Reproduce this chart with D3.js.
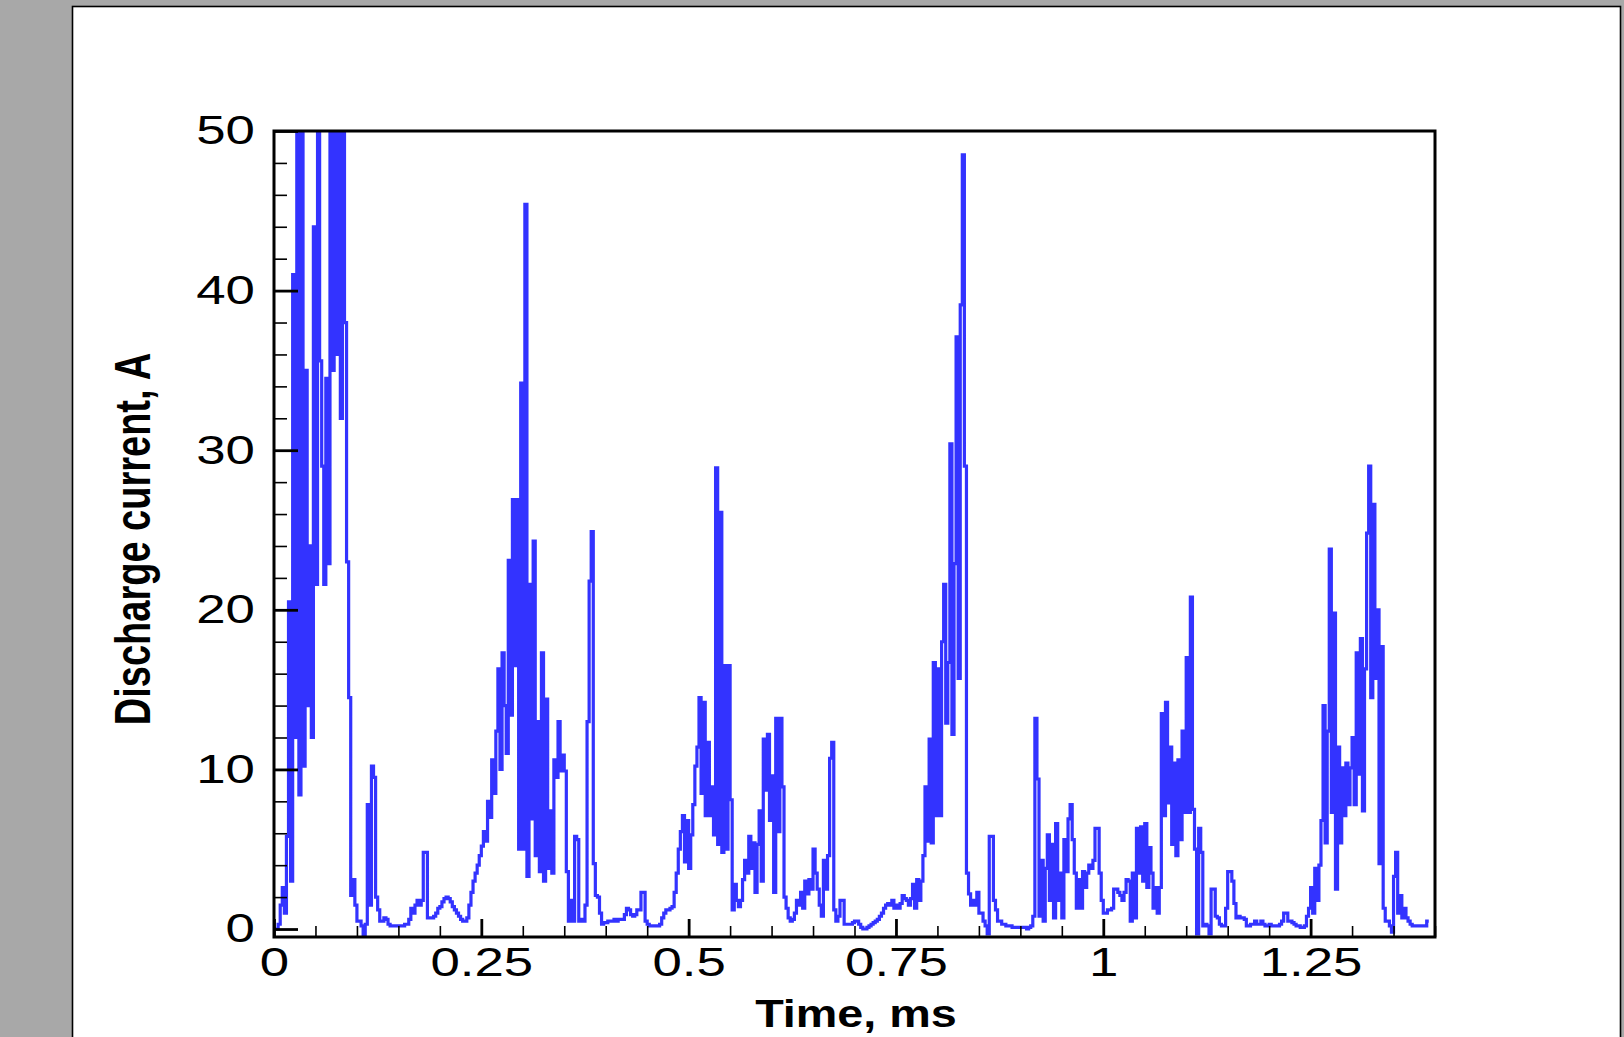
<!DOCTYPE html>
<html><head><meta charset="utf-8">
<script src="https://cdn.jsdelivr.net/npm/d3@7"></script>
<style>
html,body{margin:0;padding:0;background:#a8a8a8;overflow:hidden}
svg{display:block}
</style></head><body>
<svg id="chart" width="1624" height="1037"></svg>
<script>
// sampling step of the recorded signal, ms
const sampleStep = 0.0025;
// discharge current, A (one row per 0.05 ms)
const current = [
 0,0,0.3,1.5,2.6,1.0,5.8,20.5,3,41,12,55,8.4,55,10.2,35,14,24,12,44,
 21.6,55,35.6,29,21.6,34.5,22.9,55,35,55,36,55,32,55,38,23,14.5,2.1,3.1,1.5,
 0.5,0.5,0.2,-0.5,0.3,7.8,1.5,10.2,9.5,2.0,1.2,0.5,0.5,0.7,0.6,0.3,0.2,0.2,0.2,0.2,
 0.2,0.2,0.2,0.3,0.3,0.6,1.3,1.0,1.5,1.8,1.5,1.8,4.8,4.8,0.7,0.7,0.7,0.8,1.0,1.3,
 1.4,1.7,1.9,2.0,1.9,1.7,1.4,1.2,1.0,0.8,0.6,0.5,0.5,0.7,1.5,2.3,3.0,3.5,4.0,4.6,
 5.2,6.1,5.5,8,7,10.6,8.5,12.4,16.3,10,17.3,14,11,23.1,13.4,26.9,16.5,26.9,5,34.2,
 5,45.4,3.3,21.6,6.9,24.3,4.6,13,3.6,17.3,3,14.4,3.8,7.4,3.5,10.6,9.5,13,9.9,10.9,
 9.9,3.6,0.5,1.8,0.5,5.8,5.6,0.5,0.6,0.5,1.5,13,21.8,24.9,4.1,2.1,2.0,1.0,0.3,0.4,
 0.4,0.5,0.5,0.5,0.6,0.5,0.6,0.6,0.6,0.9,1.3,1.2,0.9,0.8,0.9,1.2,1.2,2.3,2.3,0.5,
 0.3,0.2,0.2,0.2,0.2,0.2,0.3,0.7,1.0,1.2,1.2,1.3,1.4,2.3,3.5,5.0,6.1,7.1,4.2,6.8,
 3.8,5.9,7.8,10.2,11.4,14.5,8.5,14.2,7.1,11.7,7.1,8.9,5.9,28.9,5.3,26.1,4.8,16.5,5.0,16.5,
 8.1,1.2,2.8,1.8,1.4,1.8,3.1,4.3,3.5,5.8,3.8,5.4,2.3,5.3,7.4,3.0,11.9,8.7,12.2,6.8,
 9.6,2.3,13.2,6.1,13.2,8.9,2.0,1.3,0.7,0.5,0.6,1.0,1.8,1.5,2.3,1.3,3.0,2.2,3.1,2.5,
 5.0,3.5,2.5,1.5,0.8,4.3,2.5,4.6,10.7,11.7,1.2,0.5,0.8,1.8,1.8,0.3,0.3,0.3,0.3,0.4,
 0.5,0.5,0.3,0.1,0.0,0.0,0.1,0.2,0.3,0.4,0.5,0.6,0.8,1.0,1.3,1.5,1.6,1.5,1.8,1.3,
 1.5,1.3,1.6,2.1,1.9,1.8,1.5,1.9,2.8,1.3,3.1,1.8,3.0,4.6,8.9,5.5,11.9,5.4,16.7,7.1,
 16.3,7.1,18.0,21.6,12.9,16.7,30.4,12.2,22.9,37.1,15.7,39.1,48.5,29,3.5,2.2,1.5,1.8,1.5,2.3,
 1.0,1.0,0.5,0.2,-0.3,5.8,5.8,1.8,1.2,0.5,0.5,0.3,0.3,0.2,0.2,0.2,0.1,0.1,0.1,0.1,
 0.1,0.1,0.1,0.0,0.1,0.2,0.8,13.2,9.4,0.8,4.3,0.5,3.8,5.9,1.8,5.3,0.7,6.6,1.8,3.5,
 0.7,5.6,3.6,6.9,7.8,5.6,3.5,1.3,3.1,1.3,3.6,2.6,3.5,4.0,3.8,4.3,6.3,6.3,3.5,1.8,
 1.0,1.0,1.2,1.2,1.3,2.5,2.5,2.3,2.1,1.8,2.3,3.1,3.0,0.5,3.5,0.7,6.3,3.5,6.4,3.0,
 6.6,2.6,5.1,3.5,1.3,2.6,1.0,2.6,13.5,7.1,14.2,7.9,11.4,5.3,10.4,4.6,10.6,5.6,12.4,7.3,
 17.0,7.3,20.8,7.5,5.0,-0.3,6.3,4.8,0.2,0.3,0.2,-0.3,2.5,2.5,0.8,0.7,0.3,0.2,0.2,1.3,
 3.6,3.6,3.0,1.6,0.7,0.8,0.7,0.7,0.6,0.2,0.2,0.3,0.3,0.5,0.3,0.3,0.5,0.3,0.2,0.2,
 0.3,0.2,0.2,0.2,0.2,0.3,0.5,1.0,1.0,0.5,0.5,0.4,0.3,0.2,0.2,0.1,0.1,0.2,0.8,1.3,
 2.6,1.0,3.8,1.8,4.0,6.8,14.0,5.4,12.4,23.8,7.3,19.8,2.5,11.4,5.4,10.1,7.1,10.4,7.8,10.1,
 12.0,7.8,17.3,9.7,18.2,7.4,16.3,24.8,29.0,14.5,26.6,15.7,20.0,4.1,17.7,1.3,0.5,0.5,0.2,-0.2,
 3.3,4.8,1.0,2.1,0.7,1.3,0.7,0.5,0.3,0.2,0.2,0.2,0.2,0.2,0.2,0.2,0.5,0.5
];
const xMajorTicks = [0, 0.25, 0.5, 0.75, 1, 1.25];
const xTickLabels = ["0", "0.25", "0.5", "0.75", "1", "1.25"];
const yMajorTicks = [0, 10, 20, 30, 40, 50];
const yTickLabels = ["0", "10", "20", "30", "40", "50"];
const xTitle = "Time, ms";
const yTitle = "Discharge current, A";

const svg = d3.select("#chart");
const FONT = "'Liberation Sans', Arial, Helvetica, sans-serif";

// white page
svg.append("rect").attr("x", 72.5).attr("y", 6.5).attr("width", 1548).attr("height", 1100)
  .attr("fill", "#fff").attr("stroke", "#000").attr("stroke-width", 1.6);

const x = d3.scaleLinear().domain([0, 1.4]).range([274, 1435]);
const y = d3.scaleLinear().domain([-0.5, 50]).range([937, 131]);

const xMinor = d3.range(0, 1.4001, 0.05).filter(v => Math.round(v * 100) % 25 !== 0);
const yMinor = d3.range(0, 50.001, 2).filter(v => Math.round(v) % 10 !== 0);

// clip
svg.append("clipPath").attr("id", "plotClip").append("rect")
  .attr("x", 274).attr("y", 131).attr("width", 1161).attr("height", 806);

const series = current.map((v, i) => ({ t: i * sampleStep, v }));
const line = d3.line().x(d => x(d.t)).y(d => y(d.v)).curve(d3.curveStepAfter);

svg.append("path").datum(series)
  .attr("clip-path", "url(#plotClip)")
  .attr("d", line)
  .attr("fill", "none")
  .attr("stroke", "#3333ff")
  .attr("stroke-width", 3.2)
  .attr("stroke-linejoin", "miter");

function styleAxis(g, w) {
  g.select(".domain").remove();
  g.selectAll(".tick line").attr("stroke", "#000").attr("stroke-width", w);
}

// bottom axis
svg.append("g").attr("transform", "translate(0,937)")
  .call(d3.axisBottom(x).tickValues(xMinor).tickSize(-11).tickSizeOuter(0).tickFormat(""))
  .call(g => styleAxis(g, 1.6));
const gx = svg.append("g").attr("transform", "translate(0,937)")
  .call(d3.axisBottom(x).tickValues(xMajorTicks).tickSize(-18).tickSizeOuter(0).tickPadding(11)
    .tickFormat((d, i) => xTickLabels[i]))
  .call(g => styleAxis(g, 2.8));
gx.selectAll("text").attr("fill", "#000").attr("font-family", FONT).attr("font-size", 40)
  .attr("transform", "scale(1.32,1)");

// left axis
svg.append("g").attr("transform", "translate(274,0)")
  .call(d3.axisLeft(y).tickValues(yMinor).tickSize(-13).tickSizeOuter(0).tickFormat(""))
  .call(g => styleAxis(g, 1.6));
const gy = svg.append("g").attr("transform", "translate(274,0)")
  .call(d3.axisLeft(y).tickValues(yMajorTicks).tickSize(-24).tickSizeOuter(0).tickPadding(14.5)
    .tickFormat((d, i) => yTickLabels[i]))
  .call(g => styleAxis(g, 2.8));
gy.selectAll("text").attr("fill", "#000").attr("font-family", FONT).attr("font-size", 40)
  .attr("transform", "scale(1.32,1)");

// frame
svg.append("rect").attr("x", 274).attr("y", 131).attr("width", 1161).attr("height", 806)
  .attr("fill", "none").attr("stroke", "#000").attr("stroke-width", 3);

// titles
svg.append("text").text(xTitle)
  .attr("transform", "translate(856,1027) scale(1.23,1)")
  .attr("text-anchor", "middle").attr("font-family", FONT).attr("font-weight", "bold")
  .attr("font-size", 38).attr("fill", "#000");

svg.append("text").text(yTitle)
  .attr("transform", "translate(150,539) scale(1.3,1) rotate(-90)")
  .attr("text-anchor", "middle").attr("font-family", FONT).attr("font-weight", "bold")
  .attr("font-size", 38).attr("fill", "#000");
</script>
</body></html>
